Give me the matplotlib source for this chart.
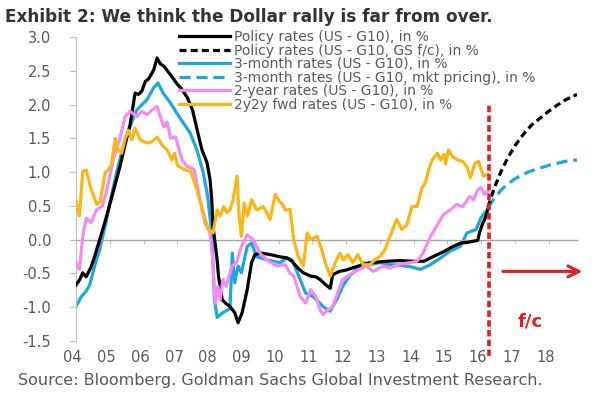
import matplotlib
matplotlib.use('Agg')
import matplotlib.pyplot as plt
import matplotlib.transforms as mtransforms

plt.rcParams['font.family'] = ['DejaVu Sans']
plt.rcParams['axes.unicode_minus'] = False

title = "Exhibit 2: We think the Dollar rally is far from over."
source = "Source: Bloomberg. Goldman Sachs Global Investment Research."
year_ticks = list(range(2004, 2019))
year_labels = ['04', '05', '06', '07', '08', '09', '10', '11', '12', '13', '14', '15', '16', '17', '18']
y_ticks = [-1.5, -1.0, -0.5, 0.0, 0.5, 1.0, 1.5, 2.0, 2.5, 3.0]
forecast_start = 2016.22

legend_labels = [
    "Policy rates (US - G10), in %",
    "Policy rates (US - G10, GS f/c), in %",
    "3-month rates (US - G10), in %",
    "3-month rates (US - G10, mkt pricing), in %",
    "2-year rates (US - G10), in %",
    "2y2y fwd rates (US - G10), in %",
]

policy_t = [2004.0, 2004.1, 2004.2, 2004.3, 2004.45, 2004.55, 2004.7, 2004.85, 2005.0, 2005.15,
            2005.3, 2005.45, 2005.6, 2005.75, 2005.85, 2005.95, 2006.05, 2006.15, 2006.3, 2006.4,
            2006.5, 2006.6, 2006.8, 2007.0, 2007.1, 2007.3, 2007.45, 2007.6, 2007.73, 2007.88,
            2007.97, 2008.02, 2008.06, 2008.18, 2008.22, 2008.33, 2008.45, 2008.56, 2008.7, 2008.8,
            2008.92, 2009.07, 2009.2, 2009.3, 2009.5, 2009.75, 2010.0, 2010.25, 2010.4, 2010.55,
            2010.73, 2010.95, 2011.1, 2011.23, 2011.4, 2011.53, 2011.6, 2011.8, 2012.0, 2012.3,
            2012.7, 2013.2, 2013.6, 2014.0, 2014.3, 2014.58, 2014.88, 2015.17, 2015.4, 2015.6,
            2015.9, 2015.95, 2016.03, 2016.12, 2016.2]
policy_v = [-0.67, -0.60, -0.49, -0.55, -0.40, -0.25, 0.00, 0.25, 0.52, 0.80,
            1.08, 1.40, 1.70, 2.17, 2.15, 2.20, 2.34, 2.38, 2.51, 2.69,
            2.60, 2.57, 2.44, 2.30, 2.25, 2.10, 1.92, 1.60, 1.33, 1.14,
            0.89, 0.59, 0.19, -0.30, -0.54, -0.89, -0.95, -0.99, -1.08, -1.23,
            -1.08, -0.74, -0.34, -0.22, -0.20, -0.22, -0.25, -0.27, -0.32, -0.41,
            -0.49, -0.54, -0.55, -0.59, -0.67, -0.72, -0.52, -0.47, -0.45, -0.40,
            -0.34, -0.32, -0.31, -0.32, -0.32, -0.25, -0.18, -0.10, -0.05, -0.04,
            -0.01, 0.10, 0.22, 0.32, 0.45]

policy_fc_t = [2016.2, 2016.4, 2016.6, 2016.8, 2017.0, 2017.25, 2017.5, 2017.75, 2018.0, 2018.25, 2018.5, 2018.84]
policy_fc_v = [0.48, 0.78, 1.02, 1.22, 1.39, 1.56, 1.70, 1.80, 1.90, 1.99, 2.07, 2.15]

m3_t = [2004.0, 2004.15, 2004.3, 2004.4, 2004.5, 2004.6, 2004.7, 2004.86, 2005.0, 2005.2,
        2005.4, 2005.6, 2005.8, 2006.0, 2006.1, 2006.3, 2006.43, 2006.58, 2006.8, 2007.08,
        2007.38, 2007.58, 2007.77, 2007.9, 2008.0, 2008.05, 2008.1, 2008.18, 2008.35, 2008.56,
        2008.63, 2008.7, 2008.8, 2008.9, 2009.07, 2009.2, 2009.35, 2009.65, 2010.05, 2010.25,
        2010.4, 2010.64, 2010.8, 2011.02, 2011.32, 2011.53, 2011.72, 2011.9, 2012.1, 2012.3,
        2012.5, 2012.7, 2013.0, 2013.3, 2013.6, 2013.9, 2014.2, 2014.5, 2014.8, 2015.08,
        2015.38, 2015.58, 2015.85, 2016.0, 2016.2]
m3_v = [-0.99, -0.85, -0.76, -0.68, -0.49, -0.30, -0.15, 0.19, 0.54, 0.99,
        1.38, 1.68, 1.92, 2.02, 2.07, 2.25, 2.32, 2.17, 2.02, 1.80,
        1.58, 1.33, 0.99, 0.64, 0.19, -0.25, -0.89, -1.15, -1.08, -1.02,
        -0.20, -0.64, -0.39, -0.49, -0.10, -0.05, -0.25, -0.30, -0.34, -0.27,
        -0.30, -0.59, -0.79, -0.84, -0.99, -1.06, -0.89, -0.69, -0.54, -0.44,
        -0.34, -0.37, -0.34, -0.37, -0.38, -0.40, -0.44, -0.37, -0.27, -0.17,
        -0.10, 0.10, 0.15, 0.33, 0.45]

m3_fc_t = [2016.2, 2016.4, 2016.6, 2016.8, 2017.0, 2017.25, 2017.5, 2017.75, 2018.0, 2018.25, 2018.5, 2018.84]
m3_fc_v = [0.47, 0.62, 0.74, 0.83, 0.90, 0.97, 1.02, 1.06, 1.10, 1.13, 1.16, 1.18]

y2_t = [2004.0, 2004.1, 2004.2, 2004.3, 2004.45, 2004.6, 2004.77, 2004.9, 2005.1, 2005.3,
        2005.45, 2005.6, 2005.8, 2005.95, 2006.1, 2006.25, 2006.4, 2006.6, 2006.7, 2006.8,
        2006.95, 2007.14, 2007.3, 2007.5, 2007.67, 2007.82, 2007.97, 2008.05, 2008.12, 2008.2,
        2008.27, 2008.35, 2008.45, 2008.62, 2008.75, 2008.9, 2009.07, 2009.25, 2009.45, 2009.65,
        2009.95, 2010.2, 2010.34, 2010.45, 2010.64, 2010.8, 2010.95, 2011.1, 2011.23, 2011.32,
        2011.45, 2011.6, 2011.75, 2011.9, 2012.05, 2012.2, 2012.4, 2012.6, 2012.8, 2013.1,
        2013.3, 2013.6, 2013.9, 2014.1, 2014.28, 2014.5, 2014.68, 2014.88, 2015.08, 2015.28,
        2015.45, 2015.67, 2015.78, 2015.9, 2016.0, 2016.1, 2016.2]
y2_v = [-0.34, -0.44, 0.05, 0.32, 0.25, 0.44, 0.49, 0.70, 1.18, 1.50,
        1.82, 1.90, 1.82, 1.90, 1.85, 1.92, 1.97, 1.67, 1.74, 1.50,
        1.52, 1.18, 1.08, 1.04, 0.59, 0.25, 0.10, -0.30, -0.94, -0.69,
        -0.89, -0.59, -0.69, -0.39, -0.34, -0.10, 0.07, 0.00, -0.20, -0.30,
        -0.39, -0.37, -0.50, -0.54, -0.84, -0.94, -0.74, -0.84, -1.04, -1.11,
        -1.04, -1.00, -0.79, -0.59, -0.54, -0.49, -0.44, -0.39, -0.47, -0.39,
        -0.42, -0.36, -0.34, -0.32, -0.20, 0.05, 0.20, 0.37, 0.44, 0.52,
        0.49, 0.64, 0.59, 0.74, 0.77, 0.67, 0.72]

fwd_t = [2004.0, 2004.1, 2004.2, 2004.3, 2004.45, 2004.62, 2004.72, 2004.86, 2004.95, 2005.05,
         2005.16, 2005.25, 2005.35, 2005.45, 2005.55, 2005.65, 2005.75, 2005.9, 2006.1, 2006.25,
         2006.4, 2006.55, 2006.7, 2006.84, 2006.92, 2007.0, 2007.2, 2007.4, 2007.58, 2007.77,
         2007.92, 2008.06, 2008.18, 2008.27, 2008.38, 2008.47, 2008.56, 2008.65, 2008.77, 2008.83,
         2008.9, 2008.98, 2009.08, 2009.2, 2009.35, 2009.55, 2009.75, 2009.9, 2010.02, 2010.12,
         2010.2, 2010.34, 2010.45, 2010.58, 2010.73, 2010.85, 2010.95, 2011.14, 2011.28, 2011.38,
         2011.53, 2011.68, 2011.82, 2011.92, 2012.05, 2012.2, 2012.35, 2012.5, 2012.7, 2012.85,
         2013.0, 2013.15, 2013.3, 2013.5, 2013.65, 2013.8, 2013.95, 2014.1, 2014.25, 2014.35,
         2014.45, 2014.55, 2014.7, 2014.8, 2014.9, 2014.95, 2015.03, 2015.15, 2015.3, 2015.45,
         2015.58, 2015.68, 2015.82, 2015.92, 2016.07, 2016.2]
fwd_v = [0.57, 0.35, 1.01, 1.03, 0.74, 0.52, 0.57, 0.99, 1.03, 1.11,
         1.50, 1.33, 1.28, 1.48, 1.62, 1.48, 1.65, 1.48, 1.43, 1.45,
         1.52, 1.40, 1.33, 1.18, 1.28, 1.10, 1.04, 1.01, 0.74, 0.40,
         0.15, 0.10, 0.44, 0.35, 0.49, 0.40, 0.44, 0.59, 0.94, 0.35,
         0.05, 0.54, 0.35, 0.59, 0.44, 0.49, 0.30, 0.67, 0.57, 0.52,
         0.44, 0.45, 0.00, -0.25, -0.39, 0.10, 0.00, 0.05, -0.15, -0.34,
         -0.54, -0.34, -0.20, -0.30, -0.22, -0.34, -0.22, -0.37, -0.37, -0.30,
         -0.25, -0.15, 0.05, 0.30, 0.15, 0.22, 0.49, 0.49, 0.77, 0.84,
         1.04, 1.18, 1.28, 1.18, 1.26, 1.12, 1.33, 1.23, 1.18, 1.16,
         1.08, 0.92, 1.13, 1.16, 0.94, 0.97]

c_black = '#000000'
c_blue = '#1ea6e0'
c_pink = '#f38bf3'
c_yellow = '#fdb515'
c_red = '#e31e24'
c_text = '#595959'

fig = plt.figure(figsize=(6, 4), dpi=100)
ax = fig.add_axes([0.1267, 0.1475, 0.835, 0.76])

lw = 2.3
h1, = ax.plot(policy_t, policy_v, color=c_black, lw=lw, zorder=3)
h2, = ax.plot(policy_fc_t, policy_fc_v, color=c_black, lw=lw, ls=(0, (2.2, 1.3)), zorder=3)
h3, = ax.plot(m3_t, m3_v, color=c_blue, lw=lw, zorder=2)
h4, = ax.plot(m3_fc_t, m3_fc_v, color=c_blue, lw=lw, ls=(0, (3.5, 1.8)), zorder=2)
h5, = ax.plot(y2_t, y2_v, color=c_pink, lw=lw, zorder=4)
h6, = ax.plot(fwd_t, fwd_v, color=c_yellow, lw=lw, zorder=5)

ax.set_xlim(2004, 2018.84)
ax.set_ylim(-1.5, 3.0)

for s in ['top', 'right']:
    ax.spines[s].set_visible(False)
ax.spines['left'].set_color('#bfbfbf')
ax.spines['bottom'].set_position(('data', 0))
ax.spines['bottom'].set_color('#a6a6a6')
ax.spines['bottom'].set_linewidth(1.0)

ax.set_yticks(y_ticks)
ax.set_yticklabels(['%.1f' % v for v in y_ticks])
ax.tick_params(axis='y', direction='out', length=4, color='#bfbfbf', labelcolor=c_text, labelsize=10.5, pad=14)
ax.set_xticks(year_ticks)
ax.tick_params(axis='x', direction='out', length=3, color='#bfbfbf', labelbottom=False)

trans = mtransforms.blended_transform_factory(ax.transData, ax.transAxes)
for yr, lab in zip(year_ticks, year_labels):
    ax.text(yr - 0.1, -0.053, lab, transform=trans, ha='center', va='center', fontsize=10.5, color=c_text)

# forecast divider
ax.axvline(forecast_start, ymin=-0.05, ymax=0.78, color=c_red, lw=2.6, ls=(0, (1.8, 0.9)), clip_on=False, zorder=6)
ax.annotate('', xy=(2019.08, -0.47), xytext=(2016.56, -0.47),
            arrowprops=dict(arrowstyle='->,head_length=0.8,head_width=0.4', color=c_red, lw=2.2),
            annotation_clip=False)
ax.text(2017.45, -1.21, 'f/c', color=c_red, fontsize=13, fontweight='bold', ha='center', va='center')

leg = fig.legend([h1, h2, h3, h4, h5, h6], legend_labels, loc='upper left',
                 bbox_to_anchor=(0.298, 0.925), frameon=False, fontsize=10,
                 handlelength=3.7, handletextpad=0.3, labelspacing=-0.03, borderpad=0, borderaxespad=0)
for t in leg.get_texts():
    t.set_color(c_text)

fig.text(0.008, 0.957, title, fontsize=12.2, fontweight='bold', color='#333333', ha='left', va='center')
fig.text(0.03, 0.05, source, fontsize=11.5, color=c_text, ha='left', va='center')

fig.savefig('out.png', dpi=100)
